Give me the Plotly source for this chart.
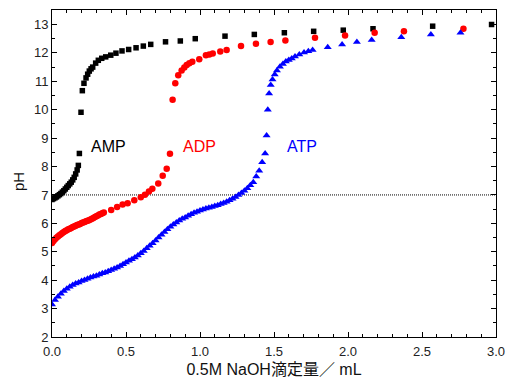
import plotly.graph_objects as go

# AMP (black squares)
amp_x = [0.00, 0.01, 0.02, 0.03, 0.04, 0.05, 0.06, 0.07, 0.08, 0.09, 0.10, 0.11, 0.12, 0.13, 0.14,
         0.15, 0.16, 0.17, 0.178, 0.185, 0.196, 0.205, 0.216, 0.23, 0.241, 0.252, 0.264, 0.275,
         0.295, 0.313, 0.336, 0.363, 0.397, 0.432, 0.473, 0.518, 0.568, 0.617, 0.667, 0.767,
         0.867, 0.968, 1.169, 1.367, 1.57, 1.768, 1.968, 2.169, 2.572, 2.97]
amp_y = [6.84, 6.87, 6.90, 6.93, 6.97, 7.01, 7.05, 7.10, 7.15, 7.21, 7.27, 7.33, 7.39, 7.45, 7.53,
         7.62, 7.74, 7.88, 8.04, 8.46, 9.91, 10.67, 10.93, 11.12, 11.25, 11.36, 11.44, 11.50,
         11.64, 11.74, 11.81, 11.86, 11.92, 11.99, 12.07, 12.12, 12.18, 12.24, 12.30, 12.39,
         12.42, 12.50, 12.59, 12.65, 12.71, 12.76, 12.80, 12.85, 12.94, 13.00]

# ADP (red circles)
adp_x = [0.00, 0.01, 0.02, 0.03, 0.04, 0.05, 0.06, 0.07, 0.08, 0.09, 0.10, 0.11, 0.12, 0.13, 0.14,
         0.15, 0.16, 0.17, 0.18, 0.19, 0.20, 0.21, 0.22, 0.23, 0.24, 0.25, 0.26, 0.27, 0.28, 0.29,
         0.30, 0.31, 0.32, 0.33, 0.34, 0.35, 0.40, 0.44, 0.477, 0.511, 0.556, 0.60, 0.628, 0.655,
         0.678, 0.718, 0.748, 0.775, 0.797, 0.815, 0.833, 0.853, 0.876, 0.894, 0.91, 0.928, 0.948,
         0.995, 1.04, 1.063, 1.086, 1.137, 1.18, 1.277, 1.378, 1.477, 1.577, 1.777, 1.98, 2.18,
         2.378, 2.78]
adp_y = [5.31, 5.38, 5.44, 5.49, 5.54, 5.58, 5.62, 5.66, 5.70, 5.73, 5.76, 5.79, 5.81, 5.84, 5.87,
         5.89, 5.92, 5.94, 5.96, 5.98, 6.01, 6.03, 6.05, 6.07, 6.09, 6.11, 6.14, 6.16, 6.19, 6.22,
         6.25, 6.28, 6.31, 6.33, 6.36, 6.38, 6.47, 6.58, 6.66, 6.71, 6.81, 6.92, 7.01, 7.12,
         7.22, 7.40, 7.68, 7.92, 8.45, 10.35, 10.93, 11.21, 11.38, 11.49, 11.57, 11.64, 11.69,
         11.78, 11.92, 11.94, 11.98, 12.05, 12.10, 12.24, 12.32, 12.38, 12.44, 12.53, 12.61, 12.71,
         12.76, 12.85]

# ATP (blue triangles)
atp_x = [0.00, 0.02, 0.04, 0.06, 0.08, 0.10, 0.12, 0.14, 0.16, 0.18, 0.20, 0.22, 0.24, 0.26, 0.28,
         0.30, 0.32, 0.34, 0.36, 0.38, 0.40, 0.42, 0.44, 0.46, 0.48, 0.50, 0.52, 0.54, 0.56, 0.58,
         0.60, 0.62, 0.64, 0.66, 0.68, 0.70, 0.72, 0.74, 0.76, 0.78, 0.80, 0.82, 0.84, 0.86, 0.88,
         0.90, 0.92, 0.94, 0.96, 0.98, 1.00, 1.02, 1.04, 1.06, 1.08, 1.10, 1.12, 1.14, 1.16, 1.18,
         1.20, 1.22, 1.24, 1.26, 1.28, 1.30, 1.32, 1.34, 1.36, 1.38, 1.40, 1.42, 1.44, 1.45, 1.458,
         1.467, 1.478, 1.49, 1.505, 1.52, 1.54, 1.56, 1.58, 1.60, 1.62, 1.642, 1.671, 1.703, 1.732,
         1.761, 1.863, 1.96, 2.06, 2.16, 2.36, 2.56, 2.76]
atp_y = [3.14, 3.30, 3.42, 3.52, 3.62, 3.70, 3.77, 3.83, 3.88, 3.92, 3.97, 4.01, 4.05, 4.09, 4.13,
         4.16, 4.20, 4.24, 4.27, 4.31, 4.36, 4.40, 4.45, 4.50, 4.56, 4.62, 4.68, 4.74, 4.80, 4.87,
         4.95, 5.03, 5.12, 5.21, 5.30, 5.40, 5.50, 5.60, 5.70, 5.79, 5.88, 5.96, 6.03, 6.10, 6.16,
         6.21, 6.27, 6.32, 6.37, 6.41, 6.45, 6.49, 6.52, 6.55, 6.58, 6.61, 6.64, 6.68, 6.72, 6.76,
         6.81, 6.87, 6.93, 7.00, 7.07, 7.15, 7.24, 7.34, 7.45, 7.65, 7.85, 8.15, 8.46, 9.09, 10.00,
         10.57, 10.87, 11.06, 11.24, 11.38, 11.51, 11.61, 11.70, 11.75, 11.80, 11.87, 11.94, 12.01,
         12.06, 12.10, 12.20, 12.30, 12.38, 12.45, 12.55, 12.65, 12.71]

labels = ["AMP", "ADP", "ATP"]
label_x = [0.25, 0.87, 1.575]
label_y = 8.70
colors = ["#000000", "#ff0000", "#0000ff"]

x_ticks = [0.0, 0.5, 1.0, 1.5, 2.0, 2.5, 3.0]
y_ticks = list(range(2, 14))

W, H = 505, 379
ML, MR, MT, MB = 52, 9, 10, 42

fig = go.Figure()
fig.add_trace(go.Scatter(x=amp_x, y=amp_y, mode="markers",
                         marker=dict(symbol="square", size=5.5, color=colors[0]), name="AMP"))
fig.add_trace(go.Scatter(x=adp_x, y=adp_y, mode="markers",
                         marker=dict(symbol="circle", size=6.5, color=colors[1]), name="ADP"))
fig.add_trace(go.Scatter(x=atp_x, y=atp_y, mode="markers",
                         marker=dict(symbol="triangle-up", size=7, color=colors[2]), name="ATP"))

fig.add_shape(type="line", xref="x", yref="y", x0=0, x1=3.0, y0=7, y1=7,
              line=dict(color="black", width=1, dash="1px,1px"), layer="below")

for t, lx, c in zip(labels, label_x, colors):
    fig.add_annotation(x=lx, y=label_y, xref="x", yref="y", text=t, showarrow=False,
                       xanchor="left", yanchor="middle",
                       font=dict(family="Liberation Sans, Arial", size=16, color=c))

pw, ph = W - ML - MR, H - MT - MB
fig.add_annotation(x=(18 - ML) / pw, y=1 - (182 - MT) / ph, xref="paper", yref="paper",
                   text="pH", showarrow=False, textangle=-90, xanchor="center", yanchor="middle",
                   font=dict(family="Liberation Sans, Arial", size=15, color="#111"))

axis_common = dict(showline=True, linecolor="black", linewidth=1, mirror="ticks",
                   ticks="inside", ticklen=5, tickcolor="black", showgrid=False, zeroline=False,
                   automargin=False, ticklabeloverflow="allow",
                   tickfont=dict(family="Liberation Sans, Arial", size=13, color="#222"))

fig.update_layout(
    width=W, height=H,
    margin=dict(l=ML, r=MR, t=MT, b=MB),
    paper_bgcolor="white", plot_bgcolor="white",
    showlegend=False,
    xaxis=dict(range=[0, 3.0], tickvals=x_ticks, ticktext=[f"{v:.1f}" for v in x_ticks],
               ticklabelstandoff=2,
               minor=dict(ticks="inside", dtick=0.1, ticklen=3, tickcolor="black", showgrid=False),
               title=dict(text="0.5M NaOH滴定量／ mL", standoff=6,
                          font=dict(family="Liberation Sans, Noto Sans CJK JP", size=16, color="#111")),
               **axis_common),
    yaxis=dict(range=[2, 13.51], tickvals=y_ticks,
               minor=dict(ticks="inside", dtick=0.5, ticklen=3, tickcolor="black", showgrid=False),
               **axis_common),
)

fig.write_html("out.html")
